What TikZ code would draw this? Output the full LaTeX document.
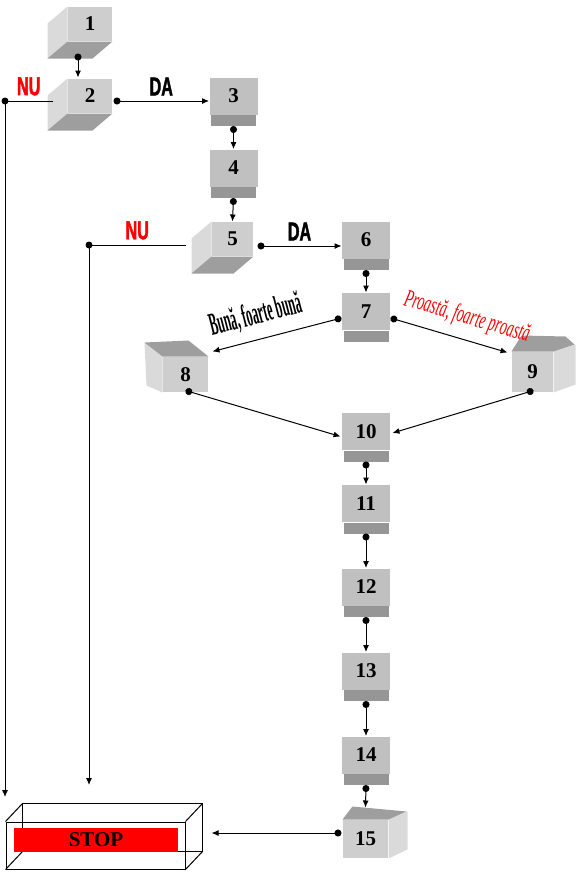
\documentclass[tikz,border=0pt]{standalone}
\usepackage{fontspec}
\setmainfont{Liberation Serif}
\newfontfamily\impactfont[FakeStretch=0.62,FakeBold=1.5,BoldFont={Liberation Sans Bold}]{Liberation Sans}
\newfontfamily\tallfont[FakeStretch=0.38,BoldFont={Liberation Serif Bold}]{Liberation Serif}
\newfontfamily\slimfont[FakeStretch=0.56]{Liberation Serif}
\usetikzlibrary{arrows.meta}
\definecolor{facegray}{RGB}{192,192,192}
\definecolor{stripgray}{RGB}{150,150,150}
\definecolor{cubefront}{RGB}{206,206,206}
\definecolor{cubeside}{RGB}{218,218,218}
\definecolor{cubedark}{RGB}{158,158,158}

\begin{document}
\begin{tikzpicture}[x=0.5pt,y=-0.5pt,line width=0.5pt,
	>={Latex[length=3.5pt,width=3pt]},
	link/.style={{Circle[length=3.5pt]}->},
	num/.style={inner sep=0pt,font=\fontsize{10.5}{12}\selectfont\bfseries},
	flat/.style={num,fill=facegray,minimum width=24pt,minimum height=18.5pt},
	cube/.style={num,fill=cubefront,minimum width=22pt,minimum height=17pt},
	yesno/.style={midway,above=1.5pt,inner sep=1pt,font=\impactfont\bfseries\fontsize{13}{15}\selectfont},
	answer/.style={sloped,above=5pt,inner sep=0pt}]
	\useasboundingbox (0,0) rectangle (577,873);
	% boites plates
	\foreach \n/\x/\y in {3/233.5/96,4/233.5/168,6/366/240,7/366/311.5,10/366/431.5,11/366/503.5,12/366/587,13/366/671,14/366/755}{
		\node[flat] (b\n) at (\x,\y) {\n};
		\fill[stripgray] ([shift={(2,0)}]b\n.south west) rectangle ([shift={(-2,11)}]b\n.south east);
		}
	% cubes vus de dessous
	\foreach \n/\x/\y/\w in {1/90/24/22pt,2/90/96/22pt,5/232.5/239/20.5pt}{
		\node[cube,minimum width=\w] (b\n) at (\x,\y) {\n};
		\fill[cubeside] (b\n.north west) -- ++(-20,17) -- ([shift={(-20,17)}]b\n.south west) -- (b\n.south west) -- cycle;
		\fill[cubedark] (b\n.south west) -- ++(-20,17) -- ([shift={(-20,17)}]b\n.south east) -- (b\n.south east) -- cycle;
		}
	% cubes vus de dessus
	\node[cube,minimum width=22.5pt,minimum height=17.5pt] (b8) at (185.5,374.5) {8};
	\fill[cubeside] (b8.north west) -- ++(-18,-14) -- ++(2,43) -- (b8.south west) -- cycle;
	\fill[cubedark] (b8.north west) -- ++(-18,-14) -- ([shift={(-20,-16)}]b8.north east) -- (b8.north east) -- cycle;
	\node[cube,minimum width=20.5pt,minimum height=20pt] (b9) at (532.5,372) {9};
	\fill[cubeside] (b9.north east) -- ++(22,-7) -- ++(0,40) -- (b9.south east) -- cycle;
	\fill[cubedark] (b9.north west) -- ++(10,-16) -- ++(44,1) -- ++(9,8) -- (b9.north east) -- cycle;
	\node[cube,minimum width=22.5pt,minimum height=19pt] (b15) at (365.5,839) {15};
	\fill[cubeside] (b15.north east) -- ++(19,-8) -- ++(0,38) -- (b15.south east) -- cycle;
	\fill[cubedark] (b15.north west) -- ++(10,-13) -- ++(54,5) -- (b15.north east) -- cycle;
	% STOP
	\node[draw,minimum width=89.5pt,minimum height=23.5pt,inner sep=0pt] (frame) at (95.5,845.5) {};
	\draw ([shift={(17,-18)}]frame.north west) rectangle ([shift={(17,-18)}]frame.south east);
	\foreach \a in {north west,north east,south west,south east}
		\draw (frame.\a) -- ++(17,-18);
	\node[num,fill=red,minimum width=82pt,minimum height=12pt] (stop) at (96,840) {STOP};
	% liaisons
	\coordinate (c2) at (5,101);
	\coordinate (e2) at (5,797);
	\coordinate (c5) at (89,245);
	\coordinate (e5) at (89,785);
	\draw[link] ([shift={(-12,12)}]b1.south) -- ([shift={(-12,-1)}]b2.north);
	\draw[link] ([shift={(1,5)}]b2.east) -- ([shift={(0,5)}]b3.west) node[yesno] (da2) {DA};
	\draw[->] ([shift={(-15,5)}]b2.west) -- (c2) node[yesno,text=red] (nu2) {NU} -- (e2);
	\fill (c2) circle (1.75pt);
	\foreach \a/\b in {3/4,4/5,6/7,10/11,11/12,12/13,13/14}
		\draw[link] ([shift={(0,11)}]b\a.south) -- (b\b.north);
	\draw[link] ([shift={(4,7)}]b5.east) -- ([shift={(0,6)}]b6.west) node[yesno] (da5) {DA};
	\draw[->] ([shift={(-26,6)}]b5.west) -- (c5) node[yesno,text=red] (nu5) {NU} -- (e5);
	\fill (c5) circle (1.75pt);
	\draw[link] ([shift={(0,6.5)}]b7.west) -- ([shift={(4,-5)}]b8.north east)
		node[answer,pos=0.62,font=\tallfont\bfseries\fontsize{16}{18}\selectfont] (good) {Bună, foarte bună};
	\draw[link] ([shift={(0,6.5)}]b7.east) -- ([shift={(-4,1)}]b9.north west)
		node[answer,pos=0.6,text=red,font=\slimfont\itshape\fontsize{12.5}{14}\selectfont] (bad) {Proastă, foarte proastă};
	\draw[link] ([shift={(0,-2)}]b8.south) -- ([shift={(-1,5)}]b10.west);
	\draw[link] ([shift={(1,-2)}]b9.south) -- ([shift={(2,1.5)}]b10.east);
	\draw[link] ([shift={(0,11)}]b14.south) -- ([shift={(0,-12)}]b15.north);
	\draw[link] ([shift={(-1,-6)}]b15.west) -- ([shift={(26,-12.5)}]frame.east);
\end{tikzpicture}
\end{document}
